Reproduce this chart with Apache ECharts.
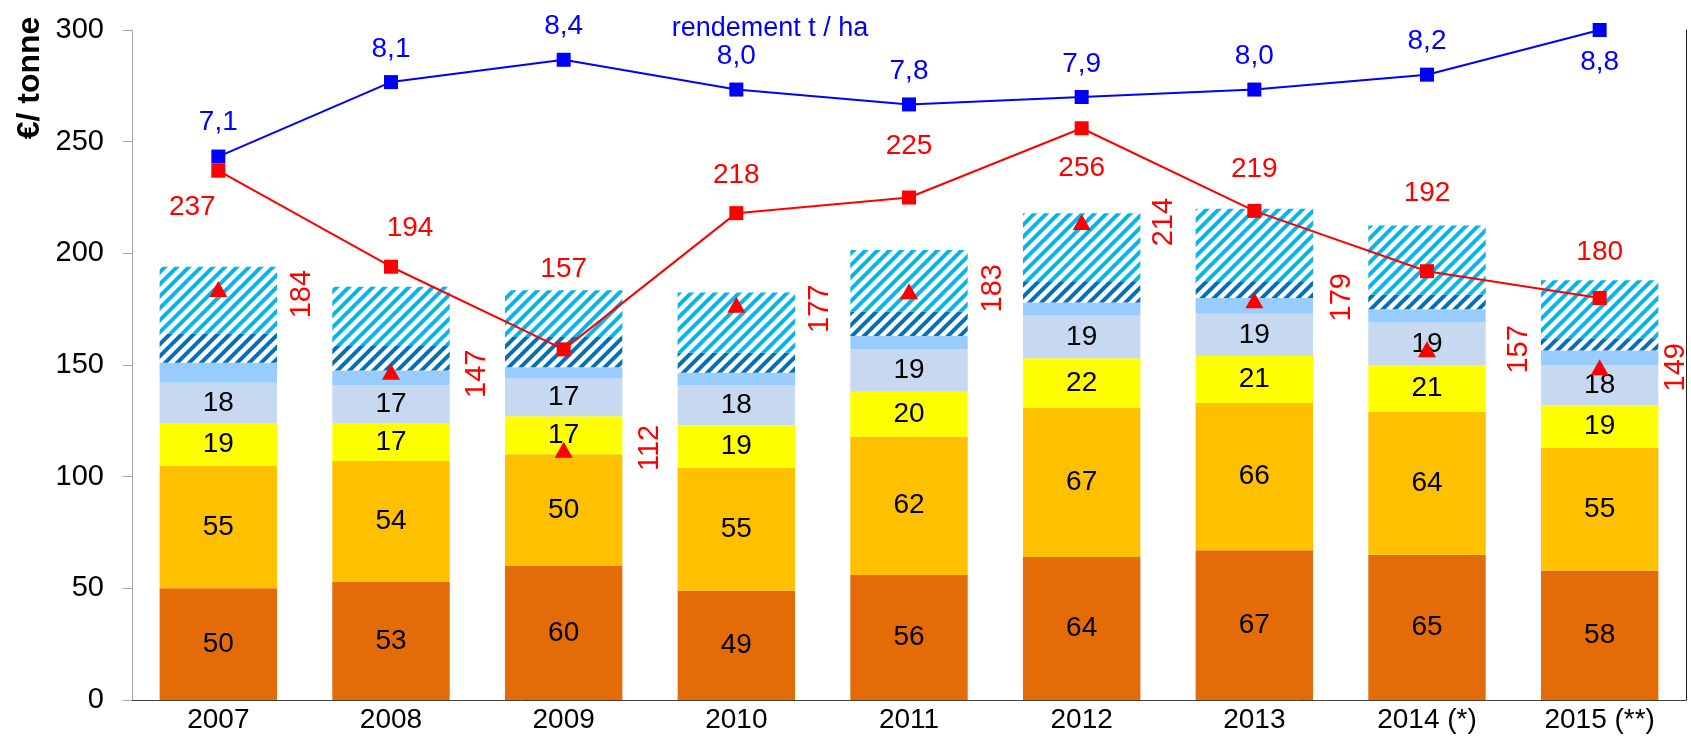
<!DOCTYPE html>
<html>
<head>
<meta charset="utf-8">
<script src="https://cdn.jsdelivr.net/npm/echarts@6/dist/echarts.min.js"></script>
<style>
  html, body { margin: 0; padding: 0; background: #fff; }
  #chart { width: 1691px; height: 750px; }
</style>
</head>
<body>
<div id="chart"></div>
<script>
// categories
const years = ['2007', '2008', '2009', '2010', '2011', '2012', '2013', '2014 (*)', '2015 (**)'];
// stacked cost components (€/tonne), bottom to top
const coutOrangeFonce = [50, 53, 60, 49, 56, 64, 67, 65, 58];
const coutOrange = [55, 54, 50, 55, 62, 67, 66, 64, 55];
const coutJaune = [19, 17, 17, 19, 20, 22, 21, 21, 19];
const coutGris = [18, 17, 17, 18, 19, 19, 19, 19, 18];
const coutBleuClair = [9, 6.5, 5, 5.5, 6, 6, 7, 6, 6.5];
const coutHachureFonce = [13, 11, 13.5, 9, 11, 9.5, 7.5, 6.5, 5.5];
const coutHachureClair = [30, 26.5, 21, 27, 27.5, 30.5, 32.5, 31, 26];
// lines
const prixVente = [237, 194, 157, 218, 225, 256, 219, 192, 180];
const coutTotal = [184, 147, 112, 177, 183, 214, 179, 157, 149];
const rendement = [7.1, 8.1, 8.4, 8.0, 7.8, 7.9, 8.0, 8.2, 8.8];
// y axis ticks
const yMin = 0, yMax = 300, yStep = 50;

// label placement (style only), screen [dx, dy]
const prixLabelShift = [[-26, 37], [19, -38], [0, -80], [0, -38], [0, -51], [0, 40], [0, -42], [0, -78], [0, -46]];
const totalLabelShift = [[84, 5], [86, 2], [86, -2], [84, 4], [84, -3], [82, 0], [88, -3], [92, 0], [76, 0]];
const rendLabelShift = [[0, -34], [0, -33], [0, -33], [0, -33], [0, -33], [0, -33], [0, -33], [0, -33], [0, 32]];

const FONT = 'Liberation Sans, Arial, sans-serif';

function stripes(color) {
  let s = 12;
  let c = document.createElement('canvas');
  c.width = s; c.height = s;
  let ctx = c.getContext('2d');
  ctx.fillStyle = '#fff';
  ctx.fillRect(0, 0, s, s);
  ctx.strokeStyle = color;
  ctx.lineWidth = 4;
  ctx.beginPath();
  ctx.moveTo(-s, s); ctx.lineTo(s, -s);
  ctx.moveTo(0, 2 * s); ctx.lineTo(2 * s, 0);
  ctx.moveTo(-s / 2, s * 1.5); ctx.lineTo(s * 1.5, -s / 2);
  ctx.stroke();
  return { image: c, repeat: 'repeat' };
}

function barSeries(name, data, color, showLabel) {
  return {
    name: name,
    type: 'bar',
    stack: 'cout',
    barWidth: '68%',
    data: data,
    itemStyle: { color: color },
    label: {
      show: showLabel,
      position: 'inside',
      color: '#000',
      fontFamily: FONT,
      fontSize: 28
    },
    z: 2
  };
}

let chart = echarts.init(document.getElementById('chart'));
let option = {
  animation: false,
  textStyle: { fontFamily: FONT },
  grid: { left: 132, right: 5, top: 30, bottom: 50, containLabel: false },
  xAxis: {
    type: 'category',
    data: years,
    axisLine: { lineStyle: { color: '#404040', width: 1 } },
    axisTick: { show: false },
    axisLabel: { color: '#000', fontSize: 28, fontFamily: FONT, margin: 6, interval: 0 }
  },
  yAxis: [{
    type: 'value',
    min: yMin,
    max: yMax,
    interval: yStep,
    splitLine: { show: false },
    axisLine: { show: true, lineStyle: { color: '#a6a6a6' } },
    axisTick: { show: true, inside: false, length: 9, lineStyle: { color: '#a6a6a6' } },
    axisLabel: { color: '#000', fontSize: 29, fontFamily: FONT, margin: 28 }
  }, {
    type: 'value',
    position: 'right',
    min: -0.2,
    max: 8.8,
    splitLine: { show: false },
    axisLine: { show: true, lineStyle: { color: '#202020' } },
    axisTick: { show: false },
    axisLabel: { show: false }
  }],
  graphic: [{
    type: 'text',
    x: 30,
    y: 78,
    rotation: Math.PI / 2,
    style: {
      text: '€/ tonne',
      font: 'bold 32px ' + FONT,
      fill: '#000',
      align: 'center',
      verticalAlign: 'middle'
    }
  }, {
    type: 'text',
    x: 770,
    y: 29,
    style: {
      text: 'rendement t / ha',
      font: '27px ' + FONT,
      fill: '#0000ff',
      align: 'center',
      verticalAlign: 'middle'
    }
  }],
  series: [
    barSeries('a', coutOrangeFonce, '#e36c09', true),
    barSeries('b', coutOrange, '#ffc000', true),
    barSeries('c', coutJaune, '#ffff00', true),
    barSeries('d', coutGris, '#c6d9f1', true),
    barSeries('e', coutBleuClair, '#99ccff', false),
    barSeries('f', coutHachureFonce, stripes('#0070c0'), false),
    barSeries('g', coutHachureClair, stripes('#00b8f0'), false),
    {
      name: 'prix',
      type: 'line',
      data: prixVente.map((v, i) => ({
        value: v,
        label: { offset: prixLabelShift[i] }
      })),
      symbol: 'rect',
      symbolSize: 14,
      lineStyle: { color: '#ff0000', width: 2 },
      itemStyle: { color: '#ff0000' },
      label: {
        show: true,
        position: 'inside',
        color: '#ff0000',
        fontSize: 28,
        fontFamily: FONT
      },
      z: 5
    },
    {
      name: 'total',
      type: 'line',
      // rotated label: offset is given in the rotated frame
      data: coutTotal.map((v, i) => ({
        value: v,
        label: { offset: [-totalLabelShift[i][1], totalLabelShift[i][0]] }
      })),
      symbol: 'triangle',
      symbolSize: [18, 16],
      lineStyle: { width: 0, opacity: 0 },
      itemStyle: { color: '#ff0000' },
      label: {
        show: true,
        position: 'inside',
        rotate: 90,
        color: '#ff0000',
        fontSize: 29,
        fontFamily: FONT
      },
      z: 5
    },
    {
      name: 'rendement',
      type: 'line',
      yAxisIndex: 1,
      data: rendement.map((v, i) => ({
        value: v,
        label: { offset: rendLabelShift[i] }
      })),
      symbol: 'rect',
      symbolSize: 14,
      lineStyle: { color: '#0000ff', width: 2 },
      itemStyle: { color: '#0000ff' },
      label: {
        show: true,
        position: 'inside',
        color: '#0000ff',
        fontSize: 28,
        fontFamily: FONT,
        formatter: p => p.value.toFixed(1).replace('.', ',')
      },
      z: 6
    }
  ]
};
chart.setOption(option);
</script>
</body>
</html>
